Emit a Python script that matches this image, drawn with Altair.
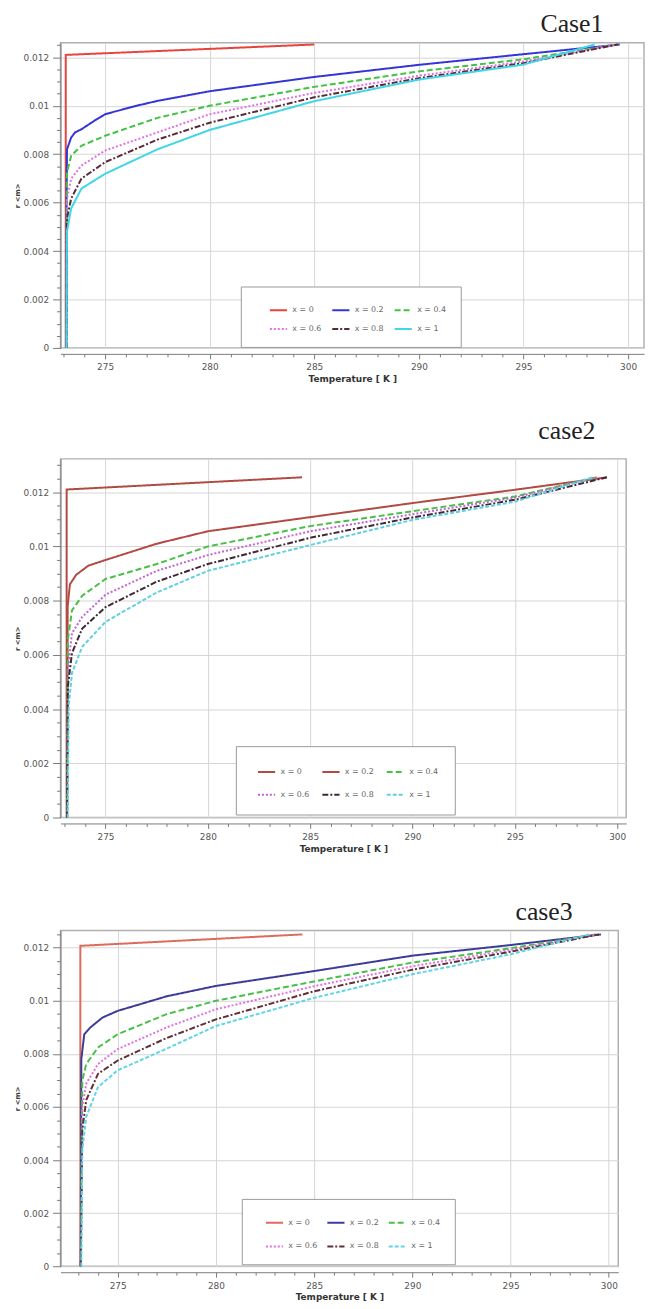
import altair as alt
import pandas as pd

SERIES = ["x = 0", "x = 0.2", "x = 0.4", "x = 0.6", "x = 0.8", "x = 1"]
X_TICKS = list(range(273, 301))
Y_TICKS = [round(i * 0.0005, 4) for i in range(0, 27)]

# ---------------- Case 1 ----------------
c1_x0_T = [273.12, 273.12, 285.0]
c1_x0_r = [0.0, 0.0121, 0.01253]
c1_x02_T = [273.15, 273.16, 273.18, 273.38, 273.57, 273.87, 274.47, 275.0, 276.45, 277.5, 280, 285, 290, 295, 299.6]
c1_x02_r = [0.0, 0.0060, 0.0082, 0.00869, 0.0089, 0.00903, 0.00937, 0.00965, 0.00999, 0.0102, 0.0106, 0.01119, 0.01169, 0.01213, 0.01253]
c1_x04_T = [273.15, 273.16, 273.18, 273.38, 273.87, 275, 277.5, 280, 285, 290, 295, 299.5]
c1_x04_r = [0.0, 0.0050, 0.00726, 0.00794, 0.00835, 0.00876, 0.0095, 0.0100, 0.01078, 0.01142, 0.01192, 0.01253]
c1_x06_T = [273.15, 273.16, 273.18, 273.38, 273.87, 275, 277.5, 280, 285, 290, 295, 299.4]
c1_x06_r = [0.0, 0.0045, 0.00617, 0.00699, 0.00753, 0.00815, 0.0089, 0.00965, 0.01053, 0.01124, 0.01183, 0.01253]
c1_x08_T = [273.15, 273.18, 273.38, 273.87, 275, 277.5, 280, 285, 290, 295, 299.5]
c1_x08_r = [0.0, 0.00535, 0.00617, 0.00699, 0.00767, 0.0086, 0.0093, 0.01035, 0.01114, 0.01176, 0.01253]
c1_x1_T = [273.15, 273.18, 273.38, 273.87, 275, 277.5, 280, 285, 290, 295, 298.4]
c1_x1_r = [0.0, 0.00481, 0.00576, 0.00658, 0.00719, 0.0082, 0.0090, 0.01019, 0.01108, 0.0117, 0.01253]

# ---------------- Case 2 ----------------
c2_x0_T = [273.1, 273.1, 284.6]
c2_x0_r = [0.0, 0.0121, 0.01255]
c2_x02_T = [273.12, 273.15, 273.26, 273.56, 274.16, 275, 277.5, 280, 285, 290, 295, 299.5]
c2_x02_r = [0.0, 0.0078, 0.0086, 0.00895, 0.00929, 0.0095, 0.0101, 0.01056, 0.01108, 0.0116, 0.01209, 0.01255]
c2_x04_T = [273.12, 273.16, 273.36, 273.86, 275, 277.5, 280, 285, 290, 295, 299.0]
c2_x04_r = [0.0, 0.00655, 0.00764, 0.00818, 0.0088, 0.00935, 0.0100, 0.01075, 0.0113, 0.01184, 0.01255]
c2_x06_T = [273.12, 273.16, 273.36, 273.86, 275, 277.5, 280, 285, 290, 295, 299.0]
c2_x06_r = [0.0, 0.00547, 0.0068, 0.0074, 0.00822, 0.0091, 0.00968, 0.01056, 0.01119, 0.0118, 0.01255]
c2_x08_T = [273.12, 273.16, 273.36, 273.86, 275, 277.5, 280, 285, 290, 295, 299.5]
c2_x08_r = [0.0, 0.00484, 0.00606, 0.00697, 0.00776, 0.0087, 0.00935, 0.01032, 0.01107, 0.01172, 0.01255]
c2_x1_T = [273.15, 273.2, 273.36, 273.86, 275, 277.5, 280, 285, 290, 295, 298.8]
c2_x1_r = [0.0, 0.00411, 0.00533, 0.0063, 0.00722, 0.0083, 0.0091, 0.01005, 0.01098, 0.01165, 0.01255]

# ---------------- Case 3 ----------------
c3_x0_T = [273.1, 273.1, 284.4]
c3_x0_r = [0.0, 0.01207, 0.0125]
c3_x02_T = [273.12, 273.15, 273.3, 273.6, 274.23, 275, 277.5, 280, 285, 290, 295, 299.6]
c3_x02_r = [0.0, 0.0078, 0.00874, 0.00899, 0.00937, 0.00962, 0.01017, 0.01056, 0.01112, 0.0117, 0.0121, 0.0125]
c3_x04_T = [273.12, 273.2, 273.4, 274.0, 275, 277.5, 280, 285, 290, 295, 299.4]
c3_x04_r = [0.0, 0.007, 0.00762, 0.00824, 0.00874, 0.0095, 0.0100, 0.01073, 0.01144, 0.01198, 0.0125]
c3_x06_T = [273.12, 273.2, 273.4, 274.0, 275, 277.5, 280, 285, 290, 295, 299.3]
c3_x06_r = [0.0, 0.006, 0.00688, 0.00762, 0.00818, 0.0090, 0.00968, 0.01055, 0.0113, 0.01192, 0.0125]
c3_x08_T = [273.12, 273.2, 273.4, 274.0, 275, 277.5, 280, 285, 290, 295, 299.5]
c3_x08_r = [0.0, 0.00514, 0.00626, 0.00725, 0.00775, 0.0086, 0.0093, 0.01036, 0.01117, 0.01185, 0.0125]
c3_x1_T = [273.15, 273.2, 273.4, 274.0, 275, 277.5, 280, 285, 290, 295, 299.0]
c3_x1_r = [0.0, 0.00439, 0.00563, 0.00675, 0.00738, 0.0082, 0.00905, 0.01011, 0.011, 0.01175, 0.0125]


def frame(curves):
    rows = []
    for name, (ts, rs) in zip(SERIES, curves):
        for i, (t, r) in enumerate(zip(ts, rs)):
            rows.append({"series": name, "T": t, "r": r, "i": i})
    return pd.DataFrame(rows)


df1 = frame([(c1_x0_T, c1_x0_r), (c1_x02_T, c1_x02_r), (c1_x04_T, c1_x04_r),
             (c1_x06_T, c1_x06_r), (c1_x08_T, c1_x08_r), (c1_x1_T, c1_x1_r)])
df2 = frame([(c2_x0_T, c2_x0_r), (c2_x02_T, c2_x02_r), (c2_x04_T, c2_x04_r),
             (c2_x06_T, c2_x06_r), (c2_x08_T, c2_x08_r), (c2_x1_T, c2_x1_r)])
df3 = frame([(c3_x0_T, c3_x0_r), (c3_x02_T, c3_x02_r), (c3_x04_T, c3_x04_r),
             (c3_x06_T, c3_x06_r), (c3_x08_T, c3_x08_r), (c3_x1_T, c3_x1_r)])

FONT = "DejaVu Sans"
AX = "#7a7a7a"
X_MAJ = "datum.value % 5 === 0"
Y_MAJ = "abs(datum.value * 500 - round(datum.value * 500)) < 0.001"


def panel(df, title, title_dx, title_off, colors, dashes, widths, w, h, xdom, ydom,
          lx, ly, lpad, lrow, lcol, lleft):
    xs = alt.Scale(domain=xdom, nice=False, zero=False)
    ys = alt.Scale(domain=ydom, nice=False, zero=False)
    xt = [v for v in X_TICKS if xdom[0] <= v <= xdom[1]]
    yt = [v for v in Y_TICKS if ydom[0] <= v <= ydom[1]]
    leg = alt.Legend(
        title=lleft, titleOrient="left", titleOpacity=0, titleFontSize=8, titlePadding=0,
        orient="none", legendX=lx, legendY=ly, columns=3, direction="horizontal",
        symbolType="stroke", symbolSize=300, symbolStrokeWidth=2,
        labelFont=FONT, labelFontSize=8, labelColor="#666",
        padding=lpad, rowPadding=lrow, columnPadding=lcol,
        strokeColor="#999", fillColor="white",
    )
    return alt.Chart(df).mark_line(interpolate="linear").encode(
        x=alt.X("T:Q", scale=xs, title="Temperature [ K ]",
                axis=alt.Axis(values=xt, orient="bottom", offset=6,
                              tickSize={"condition": {"test": X_MAJ, "value": 5}, "value": 3},
                              gridOpacity={"condition": {"test": X_MAJ, "value": 1}, "value": 0},
                              labelExpr=f"({X_MAJ}) ? format(datum.value, 'd') : ''",
                              labelOverlap=False, labelFlush=False,
                              labelPadding=4, titlePadding=3, grid=True)),
        y=alt.Y("r:Q", scale=ys, title="r <m>",
                axis=alt.Axis(values=yt, orient="left",
                              tickSize={"condition": {"test": Y_MAJ, "value": 8}, "value": 4},
                              gridOpacity={"condition": {"test": Y_MAJ, "value": 1}, "value": 0},
                              labelExpr=f"({Y_MAJ}) ? format(datum.value, '~g') : ''",
                              labelOverlap=False, labelFlush=False,
                              labelPadding=4, titlePadding=4, grid=True,
                              minExtent=36, maxExtent=36)),
        color=alt.Color("series:N", scale=alt.Scale(domain=SERIES, range=colors), legend=leg),
        strokeDash=alt.StrokeDash("series:N", scale=alt.Scale(domain=SERIES, range=dashes), legend=leg),
        strokeWidth=alt.StrokeWidth("series:N", scale=alt.Scale(domain=SERIES, range=widths), legend=None),
        order=alt.Order("i:Q"),
    ).properties(
        width=w, height=h,
        title=alt.TitleParams(text=title, anchor="end", dx=title_dx, font="Liberation Serif",
                              fontSize=26, fontWeight="normal", color="#222", offset=title_off),
    )


p1 = panel(
    df1, "Case1", -41, 4,
    ["#e8433c", "#3535d6", "#3ec43e", "#e070e6", "#5a2838", "#3fd6e6"],
    [[1, 0], [1, 0], [6, 3], [2, 2], [6, 2, 2, 2], [1, 0]],
    [2, 2, 1.6, 1.6, 1.6, 2],
    589, 308, [272.87, 300.76], [0, 0.0126], 182, 246, 14, 5, 6, "xxx",
)
p2 = panel(
    df2, "case2", -31, 15,
    ["#b04a42", "#b04a42", "#46c046", "#c462d4", "#3e2838", "#5ed0e0"],
    [[1, 0], [1, 0], [6, 3], [2, 2], [6, 2, 2, 2], [4, 2]],
    [2, 2, 1.6, 1.6, 1.6, 1.6],
    571, 362, [272.8, 300.44], [0, 0.01323], 177, 290, 16, 9, 8, "x",
)
p3 = panel(
    df3, "case3", -46, 6,
    ["#df6a5c", "#3c3c98", "#46c046", "#e070e0", "#603038", "#5ed6e6"],
    [[1, 0], [1, 0], [6, 3], [2, 2], [6, 2, 2, 2], [4, 2]],
    [2, 2, 1.6, 1.6, 1.6, 1.6],
    563, 339, [272.09, 300.48], [0, 0.01265], 183, 271, 14, 10, 5, "xx",
)

RES = dict(color="independent", strokeDash="independent", strokeWidth="independent",
           x="independent", y="independent")
top = alt.vconcat(p1, p2, spacing=33).resolve_scale(**RES).resolve_legend(
    color="independent", strokeDash="independent")
chart = alt.vconcat(top, p3, spacing=44).resolve_scale(**RES).resolve_legend(
    color="independent", strokeDash="independent",
).properties(
    padding={"left": 5, "top": -5, "right": 0, "bottom": 0}
).configure_view(
    stroke="#b0b0b0", strokeWidth=1.5
).configure_axis(
    labelFont=FONT, labelFontSize=9, labelColor="#555",
    titleFont=FONT, titleFontSize=9, titleFontWeight="bold", titleColor="#333",
    domainColor=AX, tickColor=AX, gridColor="#d6d6d6", gridWidth=1,
).configure_axisY(
    titleFontSize=7
)

chart.save("out.html", embed_options={"renderer": "svg", "actions": False})
